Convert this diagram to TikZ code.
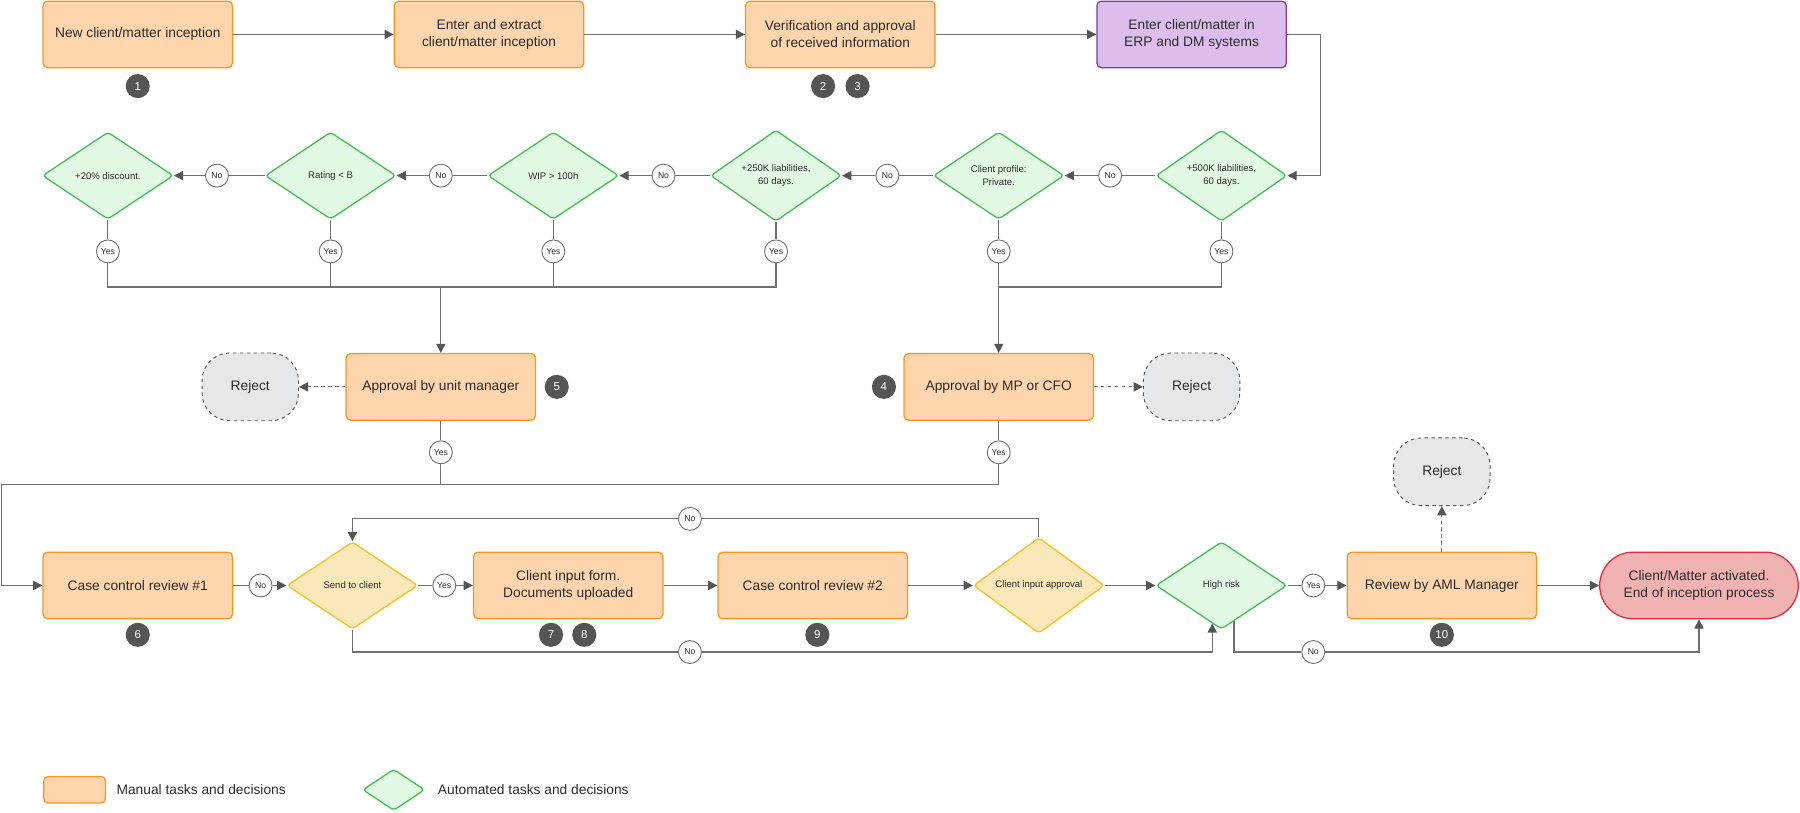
\documentclass[tikz,border=0pt]{standalone}
\usepackage{fontspec}
\setmainfont{Liberation Sans}
\usetikzlibrary{shapes.geometric,arrows.meta,calc}
\definecolor{peach}{HTML}{FFD5AE}
\definecolor{orng}{HTML}{F7961E}
\definecolor{lilac}{HTML}{DDBDEB}
\definecolor{purp}{HTML}{7E3E98}
\definecolor{mint}{HTML}{E2FAE3}
\definecolor{grn}{HTML}{3CBF4F}
\definecolor{cream}{HTML}{F9E8BA}
\definecolor{gold}{HTML}{F4C01A}
\definecolor{rejfill}{HTML}{E6E7E9}
\definecolor{endfill}{HTML}{F0B3B2}
\definecolor{endred}{HTML}{E8283B}
\definecolor{linec}{HTML}{707070}
\definecolor{badgec}{HTML}{555555}
\definecolor{txt}{HTML}{2B2B2B}
\tikzset{
  task/.style={rectangle, rounded corners=4pt, draw=orng, fill=peach, line width=1.1pt,
    minimum width=165pt, minimum height=58pt, align=center, text=txt,
    font=\fontsize{12}{15}\selectfont},
  systask/.style={task, draw=purp, fill=lilac},
  dec/.style={diamond, draw=grn, fill=mint, line width=1.1pt, minimum width=114pt,
    minimum height=76pt, inner sep=0pt, rounded corners=3pt, align=center, text=txt,
    font=\fontsize{8.3}{11.5}\selectfont},
  ydec/.style={dec, draw=gold, fill=cream},
  reject/.style={rectangle, rounded corners=24pt, dashed, draw=badgec, fill=rejfill,
    line width=0.8pt, minimum width=84pt, minimum height=59pt, text=txt,
    font=\fontsize{12}{15}\selectfont},
  endnode/.style={rectangle, rounded corners=29pt, draw=endred, fill=endfill,
    line width=1.1pt, minimum width=173pt, minimum height=58pt, align=center, text=txt,
    font=\fontsize{12}{15}\selectfont},
  badge/.style={circle, fill=badgec, text=white, minimum size=21pt, inner sep=0pt,
    font=\fontsize{10}{12}\selectfont},
  lab/.style={circle, draw=linec, fill=white, minimum size=20pt, inner sep=0pt,
    line width=0.8pt, text=txt, font=\fontsize{7.5}{9}\selectfont},
  conn/.style={draw=linec, line width=1pt},
  arr/.style={conn, -{Triangle[length=8pt,width=8pt,color=badgec]}},
  legtext/.style={anchor=west, text=txt, font=\fontsize{12}{15}\selectfont}
}
\begin{document}
\begin{tikzpicture}[x=1pt,y=-1pt]
\useasboundingbox (0,0) rectangle (1568,708);
% row 1
\node[task] (b1) at (120,30) {New client/matter inception};
\node[task] (b2) at (426,30) {Enter and extract\\client/matter inception};
\node[task] (b3) at (732,30) {Verification and approval\\of received information};
\node[systask] (b4) at (1038,30) {Enter client/matter in\\ERP and DM systems};
\node[badge] (g1) at (120,75) {1};
\node[badge] (g2) at (717,75) {2};
\node[badge] (g3) at (747,75) {3};
% row 2
\node[dec] (d1) at (94,153) {+20\% discount.};
\node[dec] (d2) at (288,153) {Rating < B};
\node[dec] (d3) at (482,153) {WIP > 100h};
\node[dec] (d4) at (676,153) {+250K liabilities,\\60 days.};
\node[dec] (d5) at (870,153) {Client profile:\\Private.};
\node[dec] (d6) at (1064,153) {+500K liabilities,\\60 days.};
\node[lab] (n1) at (189,153) {No};
\node[lab] (n2) at (384,153) {No};
\node[lab] (n3) at (578,153) {No};
\node[lab] (n4) at (773,153) {No};
\node[lab] (n5) at (967,153) {No};
\node[lab] (y1) at (94,219) {Yes};
\node[lab] (y2) at (288,219) {Yes};
\node[lab] (y3) at (482,219) {Yes};
\node[lab] (y4) at (676,219) {Yes};
\node[lab] (y5) at (870,219) {Yes};
\node[lab] (y6) at (1064,219) {Yes};
% row 3
\node[task] (um) at (384,337) {Approval by unit manager};
\node[task] (mp) at (870,337) {Approval by MP or CFO};
\node[reject] (rj1) at (218,337) {Reject};
\node[reject] (rj2) at (1038,337) {Reject};
\node[badge] (g5) at (485,337) {5};
\node[badge] (g4) at (770,337) {4};
\node[lab] (y7) at (384,394) {Yes};
\node[lab] (y8) at (870,394) {Yes};
% row 4
\node[task] (cr1) at (120,510) {Case control review \#1};
\node[ydec] (stc) at (307,510) {Send to client};
\node[task] (cif) at (495,510) {Client input form.\\Documents uploaded};
\node[task] (cr2) at (708,510) {Case control review \#2};
\node[ydec] (cia) at (905,510) {Client input approval};
\node[dec] (hr) at (1064,510) {High risk};
\node[task] (aml) at (1256,510) {Review by AML Manager};
\node[endnode] (end) at (1480,510) {Client/Matter activated.\\End of inception process};
\node[reject] (rj3) at (1256,411) {Reject};
\node[badge] (g6) at (120,553) {6};
\node[badge] (g7) at (480,553) {7};
\node[badge] (g8) at (509,553) {8};
\node[badge] (g9) at (712,553) {9};
\node[badge] (g10) at (1256,553) {10};
\node[lab] (n6) at (227,510) {No};
\node[lab] (y9) at (387,510) {Yes};
\node[lab] (n7) at (601,452) {No};
\node[lab] (n8) at (601,568) {No};
\node[lab] (y10) at (1144,510) {Yes};
\node[lab] (n9) at (1144,568) {No};
% legend
\node[task, minimum width=54pt, minimum height=23pt] (lg1) at (65,688) {};
\node[legtext] (lt1) at (98,688) {Manual tasks and decisions};
\node[dec, minimum width=54pt, minimum height=36pt] (lg2) at (343,688) {};
\node[legtext] (lt2) at (378,688) {Automated tasks and decisions};
% connectors row 1
\draw[arr] (b1) -- (b2);
\draw[arr] (b2) -- (b3);
\draw[arr] (b3) -- (b4);
\coordinate (c1) at (1150,30);
\draw[arr] (b4) -- (c1) |- (d6);
% row 2 no-chain
\draw[conn] (d6) -- (n5); \draw[arr] (n5) -- (d5);
\draw[conn] (d5) -- (n4); \draw[arr] (n4) -- (d4);
\draw[conn] (d4) -- (n3); \draw[arr] (n3) -- (d3);
\draw[conn] (d3) -- (n2); \draw[arr] (n2) -- (d2);
\draw[conn] (d2) -- (n1); \draw[arr] (n1) -- (d1);
% yes lines
\foreach \d/\y in {d1/y1,d2/y2,d3/y3,d4/y4,d5/y5,d6/y6} \draw[conn] (\d) -- (\y);
\coordinate (busL) at (384,250);
\coordinate (busR) at (870,250);
\draw[conn] (y1) |- (busL);
\draw[conn] (y4) |- (busL);
\draw[conn] (y2) -- (y2 |- busL);
\draw[conn] (y3) -- (y3 |- busL);
\draw[arr] (busL) -- (um);
\draw[conn] (y6) |- (busR);
\draw[conn] (y5) -- (busR);
\draw[arr] (busR) -- (mp);
% row 3
\draw[arr, dashed] (um) -- (rj1);
\draw[arr, dashed] (mp) -- (rj2);
\draw[conn] (um) -- (y7);
\draw[conn] (mp) -- (y8);
\coordinate (busB) at (870,422);
\coordinate (lc) at (1,422);
\draw[conn] (y7) -- (y7 |- busB);
\draw[arr] (y8) |- (lc) |- (cr1);
% row 4
\draw[conn] (cr1) -- (n6); \draw[arr] (n6) -- (stc);
\draw[conn] (stc) -- (y9); \draw[arr] (y9) -- (cif);
\draw[arr] (cif) -- (cr2);
\draw[arr] (cr2) -- (cia);
\draw[arr] (cia) -- (hr);
\draw[conn] (cia.north) |- (n7);
\draw[arr] (n7) -| (stc.north);
\coordinate (hrin) at (1056,543);
\coordinate (hrout) at (1075,541);
\draw[conn] (stc.south) |- (n8);
\draw[arr] (n8) -| (hrin);
\draw[conn] (hr) -- (y10); \draw[arr] (y10) -- (aml);
\draw[arr, dashed] (aml) -- (rj3);
\draw[arr] (aml) -- (end);
\draw[conn] (hrout) |- (n9);
\draw[arr] (n9) -| (end.south);
\end{tikzpicture}
\end{document}
